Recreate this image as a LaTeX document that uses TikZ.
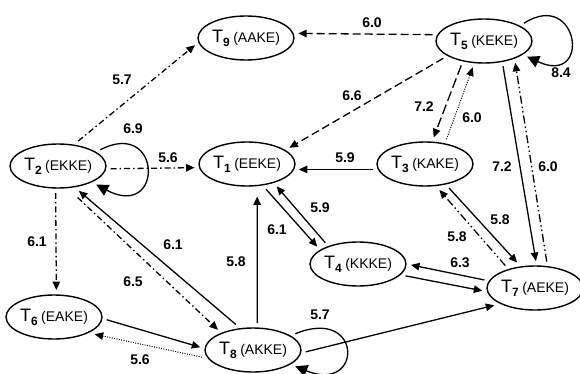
\documentclass[tikz,border=0pt]{standalone}
\usepackage{fontspec}
\setmainfont{Liberation Sans}
\usetikzlibrary{arrows.meta,shapes.geometric}
\newcommand{\stlab}[2]{{\fontsize{18}{18}\selectfont T}{\fontsize{12}{12}\selectfont\bfseries\raisebox{-4pt}{#1}}\hspace{3.5pt}{\fontsize{14}{14}\selectfont(#2)}}
\begin{document}
\begin{tikzpicture}[x=1pt,y=-1pt,
  st/.style={ellipse, draw, line width=1.4pt, minimum width=92pt, minimum height=44pt, inner sep=0pt, outer sep=5pt},
  lbl/.style={font=\fontsize{14}{14}\selectfont\bfseries, inner sep=0pt},
  arr/.style={line width=1.3pt, -{Triangle[length=8.5pt,width=7.5pt]}},
  dsh/.style={arr, dash pattern=on 8pt off 4pt},
  ldsh/.style={arr, dash pattern=on 10pt off 4pt},
  dots/.style={arr, dash pattern=on 1pt off 1.4pt, line width=1pt},
  dd/.style={arr, dash pattern=on 6pt off 3pt on 1.5pt off 3pt},
  ddd/.style={arr, dash pattern=on 8pt off 3pt on 1.5pt off 3pt on 1.5pt off 3pt},
  selfarc/.style={line width=1.3pt, -{Triangle[length=12pt,width=12pt]}}
]
\useasboundingbox[fill=white] (0,0) rectangle (580,374);

\node[st] (T9) at (246,38) {\stlab{9}{AAKE}};
\node[st] (T5) at (484,41) {\stlab{5}{KEKE}};
\node[st] (T2) at (58,166) {\stlab{2}{EKKE}};
\node[st] (T1) at (247,164) {\stlab{1}{EEKE}};
\node[st] (T3) at (425,164) {\stlab{3}{KAKE}};
\node[st] (T4) at (358,264) {\stlab{4}{KKKE}};
\node[st] (T7) at (535,288) {\stlab{7}{AEKE}};
\node[st] (T6) at (54,317) {\stlab{6}{EAKE}};
\node[st] (T8) at (253,350) {\stlab{8}{AKKE}};

% edges
\draw[dsh] (T5.173) -- (T9.5);
\draw[dsh] (T5.203) -- (T1.21);
\draw[ldsh] (T5.-133) -- (T3.72);
\draw[dots] (T3.49) -- (T5.-113);
\draw[arr] (T5.-53) -- (T7.88);
\draw[ddd] (T7.66) -- (T5.-35);
\draw[selfarc] (T5.24) .. controls +(55,-35) and +(65,30) .. (T5.-20);

\draw[arr] (T3.186) -- (T1.-6);
\draw[dd] (T2.-3) -- (T1.184);
\draw[dd] (T2.51) -- (T9.-172);
\draw[selfarc] (T2.21) .. controls +(62,-32) and +(68,36) .. (T2.-26);
\draw[dd] (T2.-95) -- (T6.85);
\draw[arr] (T8.124) -- (T2.-50);
\draw[dd, shorten <=8pt] (T2.-62) -- (T8.150);
\draw[arr] (T6.-3) -- (T8.177);
\draw[dots] (T8.-172) -- (T6.-23);
\draw[arr, shorten >=6pt] (T8.81) -- (T1.-69);
\draw[arr] (T1.-53) -- (T4.157);
\draw[arr] (T4.147) -- (T1.-37);
\draw[selfarc] (T8.21) .. controls +(68,-28) and +(68,28) .. (T8.-21);
\draw[arr] (T8.-2) -- (T7.203);
\draw[arr] (T4.-14) -- (T7.183);
\draw[arr] (T7.171) -- (T4.-1);
\draw[arr] (T3.-45) -- (T7.125);
\draw[ddd] (T7.143) -- (T3.-61);

% labels
\node[lbl] (l1) at (372,23) {6.0};
\node[lbl] (l2) at (352,96) {6.6};
\node[lbl] (l3) at (424,107) {7.2};
\node[lbl] (l4) at (472,118) {6.0};
\node[lbl] (l5) at (502,167) {7.2};
\node[lbl] (l6) at (548,167) {6.0};
\node[lbl] (l7) at (561,73) {8.4};
\node[lbl] (l8) at (345,158) {5.9};
\node[lbl] (l9) at (168,158) {5.6};
\node[lbl] (l10) at (122,80) {5.7};
\node[lbl] (l11) at (133,129) {6.9};
\node[lbl] (l12) at (37,242) {6.1};
\node[lbl] (l13) at (173,245) {6.1};
\node[lbl] (l14) at (133,282) {6.5};
\node[lbl] (l15) at (140,360) {5.6};
\node[lbl] (l16) at (236,262) {5.8};
\node[lbl] (l17) at (277,230) {6.1};
\node[lbl] (l18) at (320,208) {5.9};
\node[lbl] (l19) at (320,315) {5.7};
\node[lbl] (l20) at (460,263) {6.3};
\node[lbl] (l21) at (500,220) {5.8};
\node[lbl] (l22) at (457,237) {5.8};
\end{tikzpicture}
\end{document}
